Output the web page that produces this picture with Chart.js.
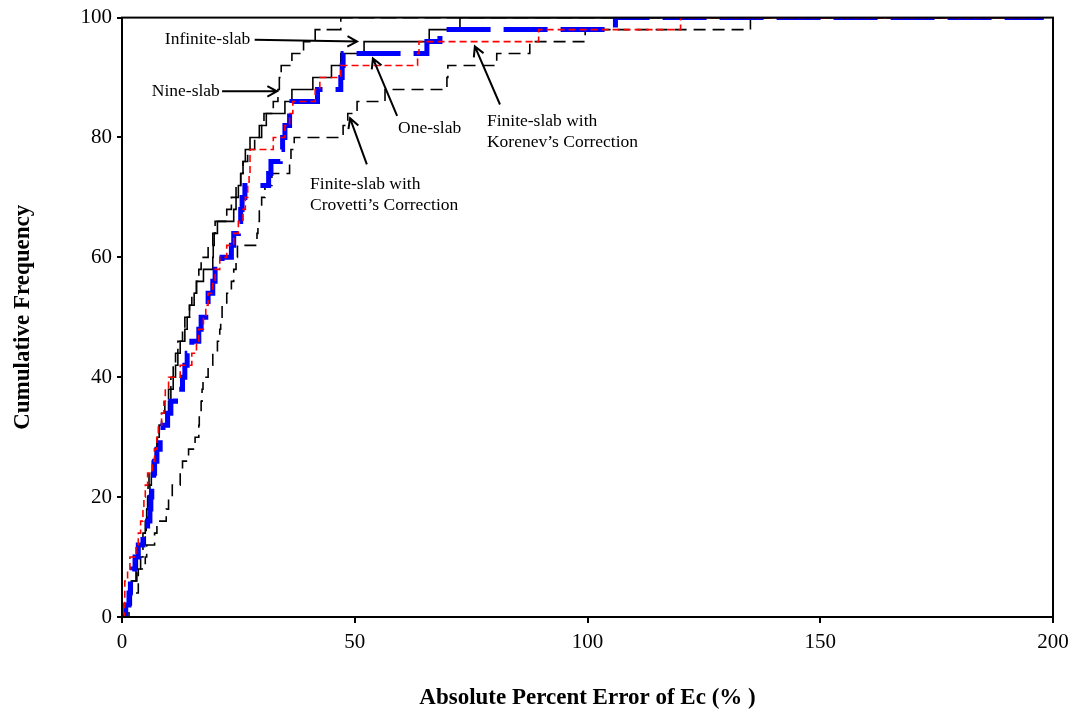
<!DOCTYPE html>
<html>
<head>
<meta charset="utf-8">
<script src="https://cdn.jsdelivr.net/npm/chart.js@4.4.1/dist/chart.umd.min.js"></script>
<style>
  body { margin: 0; background: #fff; }
  #wrap { width: 1078px; height: 716px; }
</style>
</head>
<body>
<div id="wrap"><canvas id="chart" width="1078" height="716"></canvas></div>
<script>
// Cumulative frequency levels (%), one step per test section
const cumFreq = [0, 2, 4, 6, 8, 10, 12, 14, 16, 18, 20, 22, 24, 26, 28, 30, 32, 34, 36, 38, 40,
                 42, 44, 46, 48, 50, 52, 54, 56, 58, 60, 62, 64, 66, 68, 70, 72, 74, 76, 78, 80,
                 82, 84, 86, 88, 90, 92, 94, 96, 98, 100];

// Absolute percent error (%) at which each level is reached
const infiniteSlab = [0, 1.0, 1.5, 2.2, 3.0, 3.3, 3.6, 4.5, 5.0, 5.3, 5.6, 6.0, 6.3, 6.8, 7.2, 7.6, 8.0, 9.5, 10.0, 10.5, 11.0,
                      11.5, 12.0, 12.5, 13.5, 14.0, 14.5, 15.5, 16.0, 17.5, 19.5, 19.6, 19.8, 20.5, 24.0, 24.5, 25.0, 25.5, 26.0, 26.5, 27.5,
                      29.5, 31.0, 35.0, 36.5, 41.0, 45.0, 47.0, 52.0, 66.0, 72.6];
const nineSlab = [0, 0.8, 1.3, 2.0, 3.2, 4.0, 4.5, 5.0, 5.2, 5.4, 5.5, 5.6, 5.8, 6.5, 7.0, 7.5, 8.0, 8.5, 9.2, 10.0, 10.5,
                  11.0, 11.5, 12.0, 13.0, 13.5, 14.5, 15.0, 16.0, 16.5, 17.0, 18.5, 19.5, 20.0, 22.5, 23.5, 24.5, 25.5, 26.0, 27.0, 28.5,
                  30.0, 30.5, 32.5, 33.5, 33.8, 34.2, 36.5, 39.0, 41.5, 47.0];
const oneSlab = [0, 0.8, 1.5, 1.8, 2.2, 2.8, 3.5, 4.5, 5.5, 6.0, 6.2, 6.4, 6.8, 7.0, 7.5, 8.2, 8.8, 9.8, 10.5, 11.5, 13.0,
                 13.5, 14.0, 15.0, 16.5, 17.0, 18.0, 18.5, 19.5, 20.0, 21.5, 23.5, 24.0, 25.0, 25.5, 25.8, 26.4, 31.5, 32.0, 34.0, 34.5,
                 35.0, 36.0, 36.5, 42.0, 47.0, 47.3, 47.5, 65.5, 68.3, 106.0];
const korenev = [0, 0.5, 0.6, 0.6, 1.2, 1.7, 3.0, 3.5, 4.0, 4.5, 4.7, 5.0, 5.5, 6.5, 7.0, 7.5, 7.8, 8.5, 9.0, 9.3, 10.0,
                 12.5, 15.0, 16.0, 16.5, 17.5, 18.0, 18.5, 19.5, 20.0, 21.0, 22.5, 24.0, 25.0, 26.0, 26.5, 27.0, 27.3, 27.5, 27.5, 32.5,
                 35.0, 36.0, 36.7, 41.5, 42.5, 47.0, 63.5, 63.8, 89.5, 120.0];
const crovetti = [0, 1.5, 2.0, 3.5, 3.5, 5.0, 5.3, 7.0, 7.5, 9.5, 10.0, 10.8, 12.5, 13.0, 14.3, 15.7, 16.5, 16.6, 17.0, 17.2, 17.4,
                  18.5, 19.5, 20.5, 21.0, 21.2, 21.5, 22.5, 23.5, 24.0, 24.5, 24.8, 29.0, 29.2, 29.5, 30.0, 30.7, 32.2, 36.0, 36.3, 37.0,
                  47.5, 48.5, 50.5, 56.5, 69.8, 70.0, 80.5, 87.6, 99.5, 135.0];
// every curve stays at 100 % out to the end of the axis
const tailX = 198;

const xTicks = [0, 50, 100, 150, 200];
const yTicks = [0, 20, 40, 60, 80, 100];

// Callout labels, positioned in data units
const notes = [
    { lines: ['Infinite-slab'], tx: 9.2, ty: [96.3], from: [28.5, 96.3], to: [50.5, 96.0] },
    { lines: ['Nine-slab'], tx: 6.4, ty: [87.7], from: [21.5, 87.7], to: [33.3, 87.7] },
    { lines: ['One-slab'], tx: 59.3, ty: [81.5], from: [59.1, 83.6], to: [53.9, 93.2] },
    { lines: ['Finite-slab with', 'Korenev\u2019s Correction'], tx: 78.4, ty: [82.7, 79.1], from: [81.2, 85.5], to: [75.8, 95.2] },
    { lines: ['Finite-slab with', 'Crovetti\u2019s Correction'], tx: 40.4, ty: [72.2, 68.7], from: [52.6, 75.5], to: [49.0, 83.2] }
];

function toPoints(xs) {
    const pts = xs.map((v, i) => ({ x: v, y: cumFreq[i] }));
    pts.push({ x: tailX, y: 100 });
    return pts;
}

// Frame round the plot plus the callout texts and arrows
const notesPlugin = {
    id: 'notes',
    afterDatasetsDraw(chart) {
        const { ctx, chartArea: a, scales } = chart;
        const sx = scales.x, sy = scales.y;
        ctx.save();
        ctx.strokeStyle = '#000';
        ctx.lineWidth = 2;
        ctx.strokeRect(a.left, a.top, a.right - a.left, a.bottom - a.top);

        ctx.font = '17.5px "Liberation Serif", "Times New Roman", serif';
        ctx.fillStyle = '#000';
        ctx.textBaseline = 'middle';
        ctx.textAlign = 'left';
        notes.forEach(n => {
            n.lines.forEach((t, i) => {
                ctx.fillText(t, sx.getPixelForValue(n.tx), sy.getPixelForValue(n.ty[i]));
            });
            const x0 = sx.getPixelForValue(n.from[0]), y0 = sy.getPixelForValue(n.from[1]);
            const x1 = sx.getPixelForValue(n.to[0]), y1 = sy.getPixelForValue(n.to[1]);
            const ang = Math.atan2(y1 - y0, x1 - x0);
            const head = 11;
            ctx.lineWidth = 2;
            ctx.beginPath();
            ctx.moveTo(x0, y0);
            ctx.lineTo(x1, y1);
            ctx.moveTo(x1 - head * Math.cos(ang - 0.5), y1 - head * Math.sin(ang - 0.5));
            ctx.lineTo(x1, y1);
            ctx.lineTo(x1 - head * Math.cos(ang + 0.5), y1 - head * Math.sin(ang + 0.5));
            ctx.stroke();
        });
        ctx.restore();
    }
};

const serif = '"Liberation Serif", "Times New Roman", serif';

new Chart(document.getElementById('chart'), {
    type: 'scatter',
    data: {
        datasets: [
            {
                label: 'Finite-slab with Korenev\u2019s Correction',
                data: toPoints(korenev),
                borderColor: '#ff0000', borderWidth: 1.6, borderDash: [7, 4], order: 1
            },
            {
                label: 'One-slab',
                data: toPoints(oneSlab),
                borderColor: '#0000ff', borderWidth: 5, borderDash: [44, 13], order: 2
            },
            {
                label: 'Infinite-slab',
                data: toPoints(infiniteSlab),
                borderColor: '#000', borderWidth: 1.6, order: 3
            },
            {
                label: 'Nine-slab',
                data: toPoints(nineSlab),
                borderColor: '#000', borderWidth: 1.6, borderDash: [16, 6], order: 4
            },
            {
                label: 'Finite-slab with Crovetti\u2019s Correction',
                data: toPoints(crovetti),
                borderColor: '#000', borderWidth: 1.6, borderDash: [12, 7], order: 5
            }
        ].map(d => Object.assign(d, { showLine: true, stepped: 'before', pointRadius: 0, fill: false }))
    },
    options: {
        responsive: false,
        animation: false,
        layout: { padding: { top: 16, right: 25, bottom: 0, left: 0 } },
        plugins: { legend: { display: false }, tooltip: { enabled: false } },
        scales: {
            x: {
                type: 'linear', min: 0, max: 200,
                afterBuildTicks: s => { s.ticks = xTicks.map(v => ({ value: v })); },
                afterFit: s => { s.height = 99; },
                grid: { drawOnChartArea: false, color: '#000', tickLength: 6, lineWidth: 2 },
                border: { color: '#000', width: 2 },
                ticks: { color: '#000', padding: 7, maxRotation: 0, font: { family: serif, size: 21 } },
                title: {
                    display: true, text: 'Absolute Percent Error of Ec (% )', color: '#000',
                    padding: { top: 0, bottom: 4 },
                    font: { family: serif, size: 23, weight: 'bold' }
                }
            },
            y: {
                type: 'linear', min: 0, max: 100,
                afterBuildTicks: s => { s.ticks = yTicks.map(v => ({ value: v })); },
                afterFit: s => { s.width = 122; },
                grid: { drawOnChartArea: false, color: '#000', tickLength: 5, lineWidth: 2 },
                border: { color: '#000', width: 2 },
                ticks: { color: '#000', padding: 5, font: { family: serif, size: 21 } },
                title: {
                    display: true, text: 'Cumulative Frequency', color: '#000',
                    padding: { top: 9, bottom: 0 },
                    font: { family: serif, size: 23, weight: 'bold' }
                }
            }
        }
    },
    plugins: [notesPlugin]
});
</script>
</body>
</html>
